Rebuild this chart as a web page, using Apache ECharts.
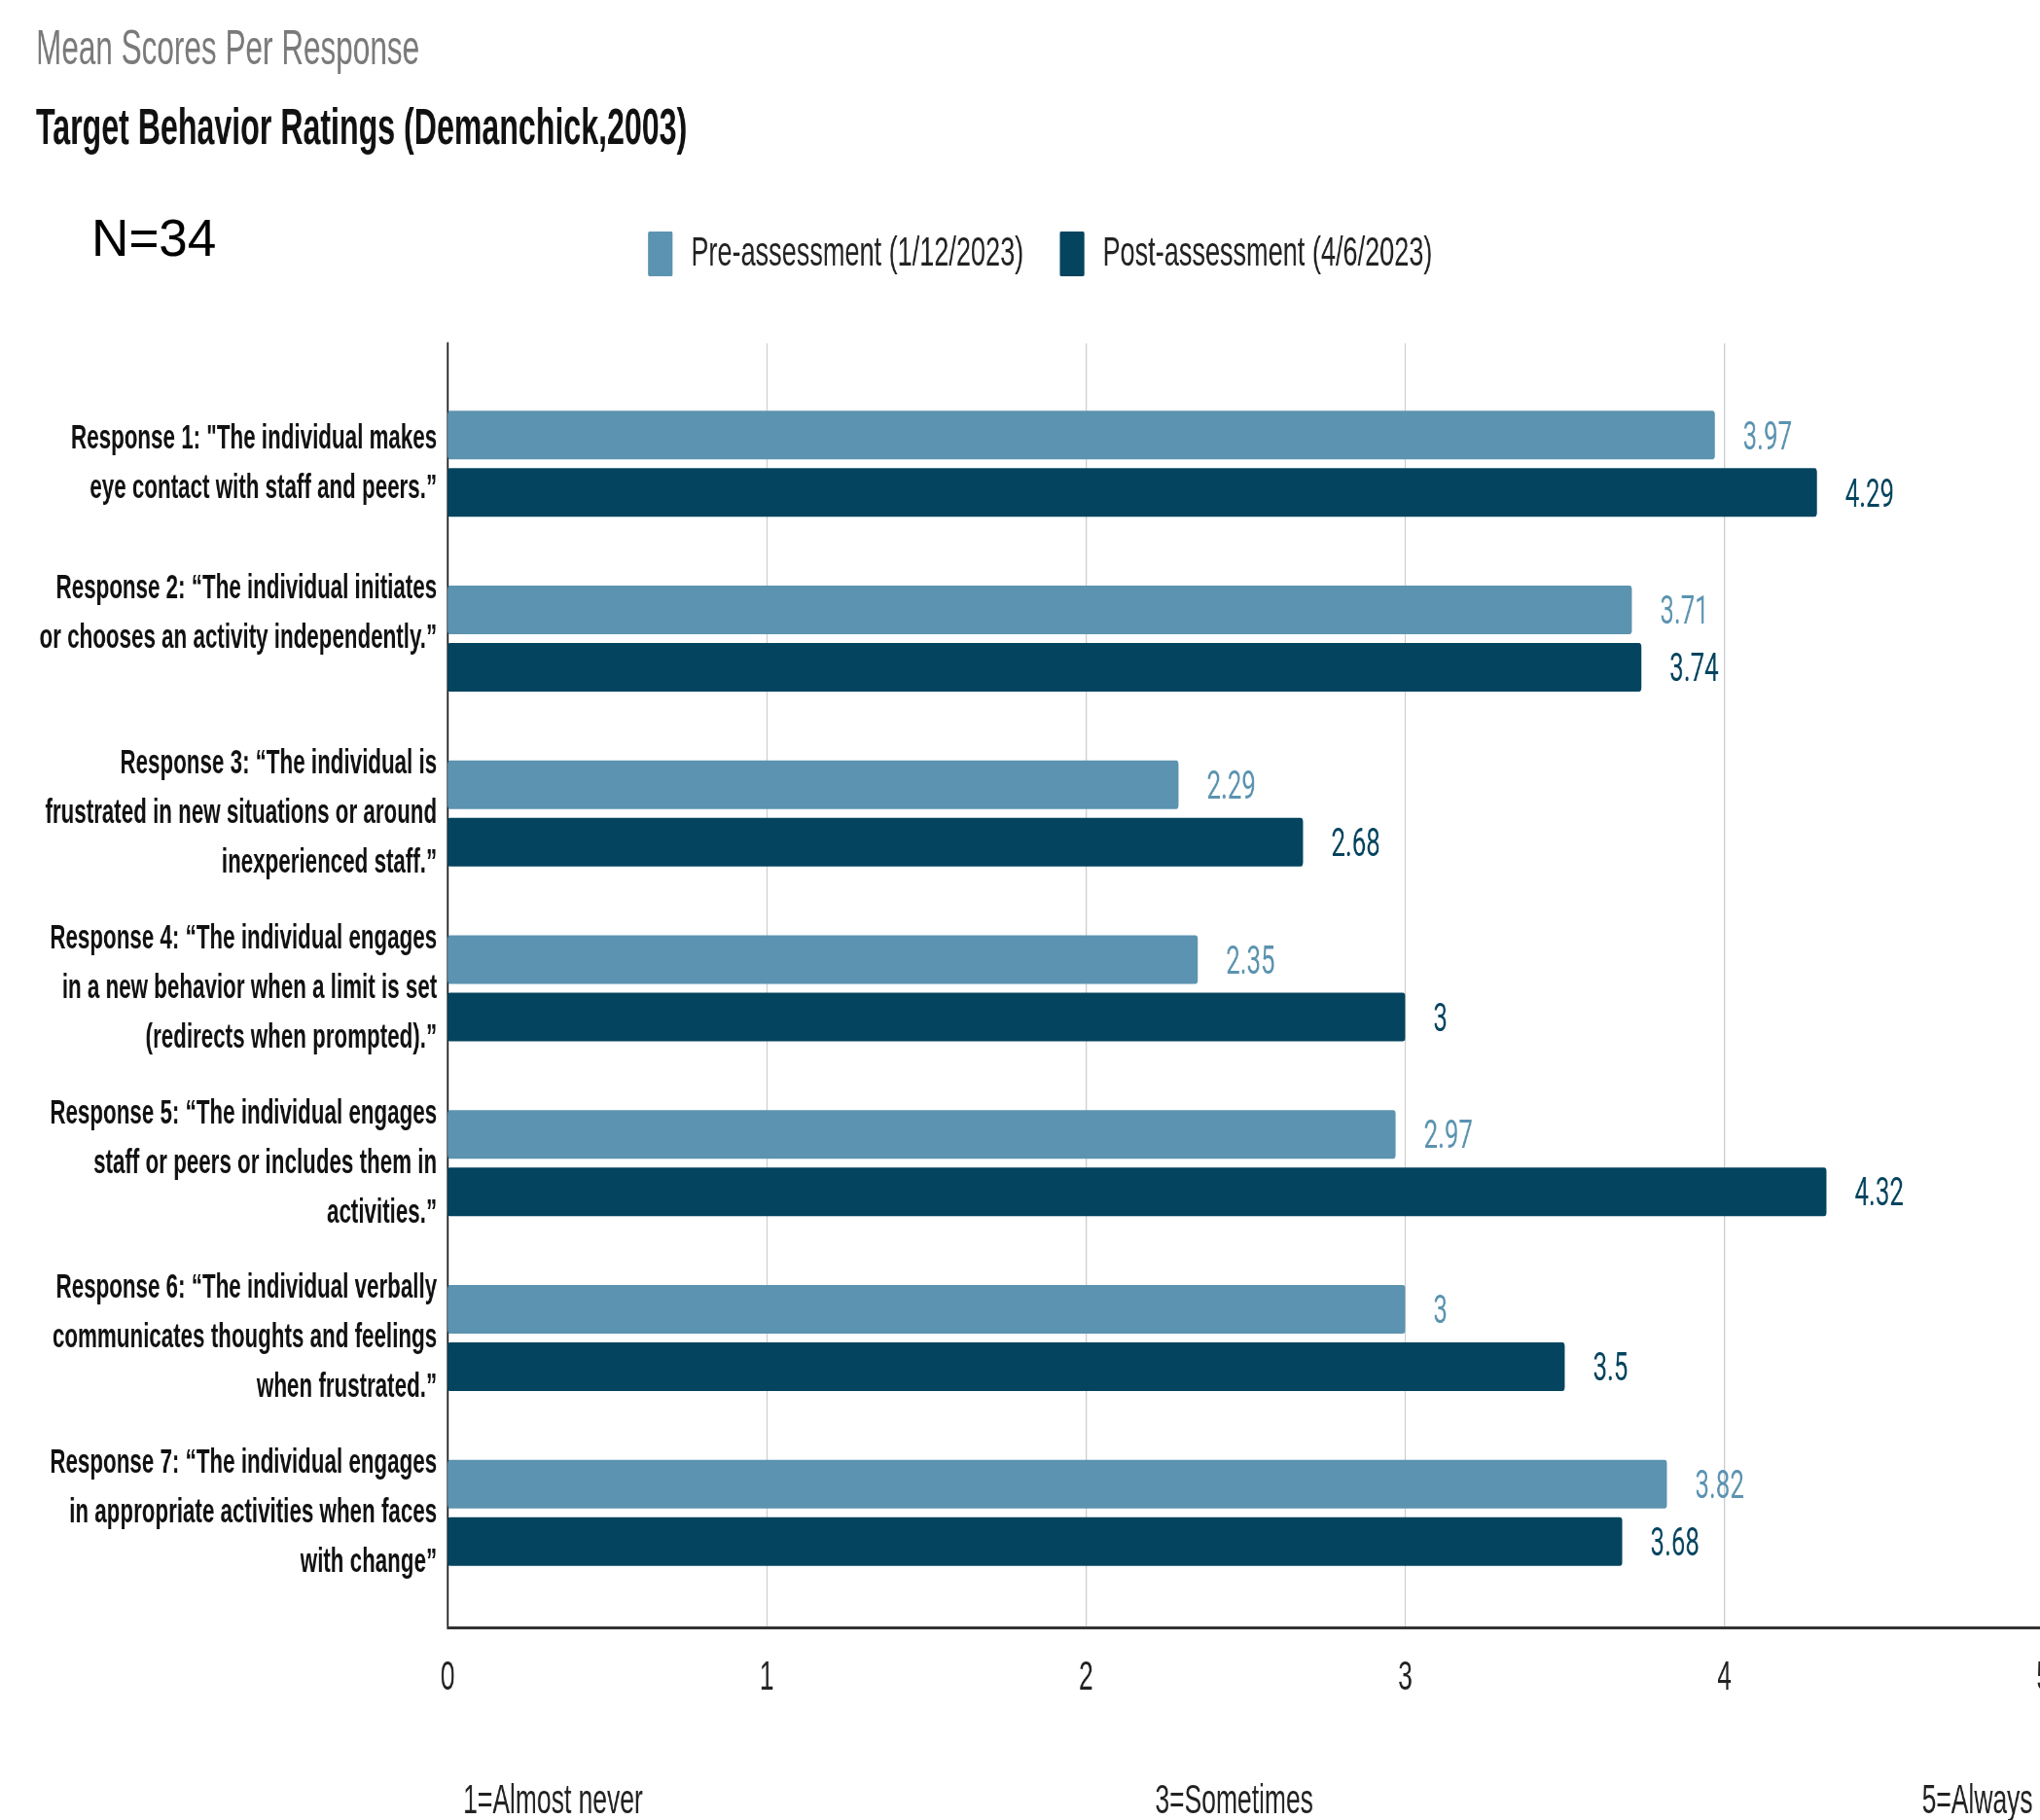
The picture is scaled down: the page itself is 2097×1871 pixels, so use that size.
<!DOCTYPE html>
<html>
<head>
<meta charset="utf-8">
<script src="https://cdn.jsdelivr.net/npm/echarts@6/dist/echarts.min.js"></script>
<style>
  html, body { margin: 0; padding: 0; background: #fff; }
  #wrap { position: absolute; left: 0; top: 0; width: 2097px; height: 1871px; overflow: hidden; background: #fff; }
  #chart { position: absolute; left: 0; top: 0; height: 1871px; transform-origin: 0 0; }
</style>
</head>
<body>
<div id="wrap"><div id="chart"></div></div>
<script>
// ---- data ----
const categories = [
  'Response 1: "The individual makes\neye contact with staff and peers.”',
  'Response 2: “The individual initiates\nor chooses an activity independently.”\n ',
  'Response 3: “The individual is\nfrustrated in new situations or around\ninexperienced staff.”',
  'Response 4: “The individual engages\nin a new behavior when a limit is set\n(redirects when prompted).”',
  'Response 5: “The individual engages\nstaff or peers or includes them in\nactivities.”',
  'Response 6: “The individual verbally\ncommunicates thoughts and feelings\nwhen frustrated.”',
  'Response 7: “The individual engages\nin appropriate activities when faces\nwith change”'
];
const preName = 'Pre-assessment (1/12/2023)';
const postName = 'Post-assessment (4/6/2023)';
const preValues = [3.97, 3.71, 2.29, 2.35, 2.97, 3, 3.82];
const postValues = [4.29, 3.74, 2.68, 3, 4.32, 3.5, 3.68];
const tickLabels = ['0', '1', '2', '3', '4', '5'];
const scaleNotes = ['1=Almost never', '3=Sometimes', '5=Always'];
const subtitleText = 'Mean Scores Per Response';
const titleText = 'Target Behavior Ratings (Demanchick,2003)';
const nText = 'N=34';

// ---- layout (the source picture is horizontally condensed) ----
const S = 0.63;
const W = 2097 / S;
const X = v => v / S;
const el = document.getElementById('chart');
el.style.width = W + 'px';
el.style.transform = 'scaleX(' + S + ')';

const FONT = '"Liberation Sans", Arial, sans-serif';
const PRE = '#5b93b0';
const POST = '#04445f';

const chart = echarts.init(el, null, { width: W, height: 1871 });
const rightPad = W - X(2100);

chart.setOption({
  backgroundColor: '#ffffff',
  animation: false,
  title: [
    { text: subtitleText, left: X(37), top: 27, padding: 0,
      textStyle: { fontFamily: FONT, fontSize: 50, fontWeight: 'normal', color: '#7a7a7a' } },
    { text: titleText, left: X(37), top: 108, padding: 0,
      textStyle: { fontFamily: FONT, fontSize: 51, fontWeight: 'bold', color: '#111111' } }
  ],
  legend: {
    data: [preName, postName],
    left: X(666), top: 238, padding: 0,
    itemWidth: 40, itemHeight: 46, itemGap: 59,
    icon: 'path://M2,0 L38,0 Q40,0 40,2 L40,44 Q40,46 38,46 L2,46 Q0,46 0,44 L0,2 Q0,0 2,0 Z',
    textStyle: { fontFamily: FONT, fontSize: 43, color: '#222222', padding: [0, 0, 0, 25] }
  },
  grid: [
    { left: X(460), right: rightPad, top: 387, bottom: 226, containLabel: false, outerBoundsMode: 'none' },
    { left: X(460), right: rightPad, top: 353, bottom: 198, containLabel: false, outerBoundsMode: 'none' }
  ],
  xAxis: [
    { gridIndex: 0, type: 'value', min: 0, max: 5, interval: 1, show: false },
    { gridIndex: 1, type: 'value', min: 0, max: 5, interval: 1,
      axisLine: { show: true, onZero: false, lineStyle: { color: '#333333', width: 3 } },
      axisTick: { show: false },
      splitLine: { show: true, lineStyle: { color: '#c8c8c8', width: 1.8 } },
      axisLabel: { fontFamily: FONT, fontSize: 42, color: '#222222', margin: 31,
        formatter: v => tickLabels[Math.round(v)] } }
  ],
  yAxis: [
    { gridIndex: 0, type: 'category', data: categories, inverse: true,
      axisLine: { show: false }, axisTick: { show: false }, splitLine: { show: false },
      axisLabel: { fontFamily: FONT, fontSize: 35.5, fontWeight: 'bold', color: '#111111',
        lineHeight: 51, margin: X(11), align: 'right' } },
    { gridIndex: 1, type: 'value', min: 0, max: 1,
      axisLine: { show: true, onZero: false, lineStyle: { color: '#222222', width: 3 } },
      axisTick: { show: false }, axisLabel: { show: false }, splitLine: { show: false } }
  ],
  series: [
    { name: preName, type: 'bar', xAxisIndex: 0, yAxisIndex: 0, data: preValues,
      barWidth: 50, barGap: '18%',
      itemStyle: { color: PRE, borderRadius: 4 },
      label: { show: true, position: 'right', distance: 46, offset: [0, 4], fontFamily: 'Roboto', fontSize: 41, color: PRE } },
    { name: postName, type: 'bar', xAxisIndex: 0, yAxisIndex: 0, data: postValues,
      barWidth: 50, barGap: '18%',
      itemStyle: { color: POST, borderRadius: 4 },
      label: { show: true, position: 'right', distance: 46, offset: [0, 4], fontFamily: 'Roboto', fontSize: 41, color: POST } }
  ],
  graphic: [
    { type: 'text', x: X(94), y: 248, scaleX: 1 / S, scaleY: 1,
      style: { text: nText, font: '53px ' + FONT, fill: '#000000', textVerticalAlign: 'middle', textAlign: 'left' } },
    { type: 'text', x: X(476), y: 1852,
      style: { text: scaleNotes[0], font: '42px ' + FONT, fill: '#222222', textVerticalAlign: 'middle', textAlign: 'left' } },
    { type: 'text', x: X(1187), y: 1852,
      style: { text: scaleNotes[1], font: '42px ' + FONT, fill: '#222222', textVerticalAlign: 'middle', textAlign: 'left' } },
    { type: 'text', x: X(2089), y: 1852,
      style: { text: scaleNotes[2], font: '42px ' + FONT, fill: '#222222', textVerticalAlign: 'middle', textAlign: 'right' } }
  ]
});
</script>
</body>
</html>
